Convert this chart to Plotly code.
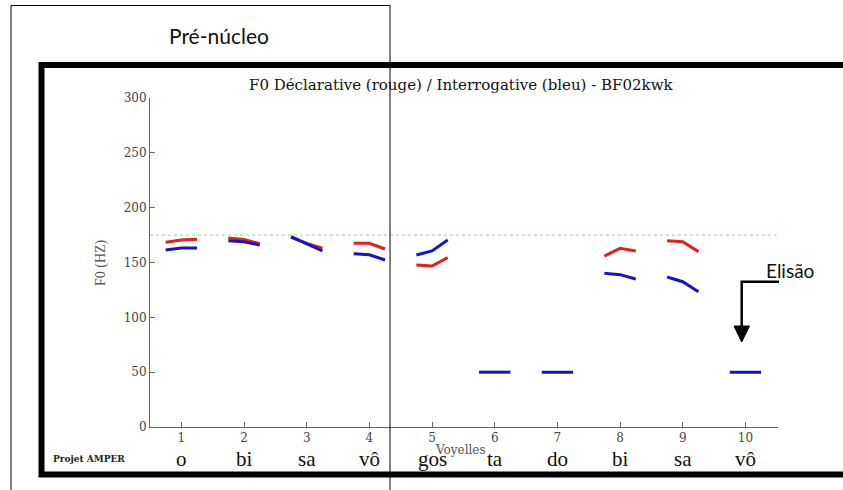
import plotly.graph_objects as go

# ---- data ---------------------------------------------------------------
vowel_pos = [1, 2, 3, 4, 5, 6, 7, 8, 9, 10]
sample_offsets = [-0.25, 0.0, 0.25]          # three F0 samples per vowel

f0_declarative = [            # red (no value on vowels 6, 7 and 10)
    [168.4, 170.5, 171.1],
    [172.3, 171.1, 167.1],
    [173.0, 167.5, 163.0],
    [167.5, 167.5, 162.3],
    [147.7, 146.8, 154.4],
    None,
    None,
    [155.9, 162.9, 160.5],
    [169.9, 169.0, 159.9],
    None,
]
f0_interrogative = [          # blue
    [161.4, 163.2, 163.2],
    [169.9, 168.9, 166.0],
    [173.5, 167.0, 160.5],
    [158.0, 157.1, 152.3],
    [156.8, 160.5, 170.5],
    [50, 50, 50],
    [50, 50, 50],
    [140.1, 138.9, 135.0],
    [136.8, 132.5, 123.4],
    [50, 50, 50],
]
reference_f0 = 175
syllables = ["o", "bi", "sa", "vô", "gos", "ta", "do", "bi", "sa", "vô"]
y_ticks = [0, 50, 100, 150, 200, 250, 300]

# ---- layout geometry (pixels) -------------------------------------------
W, H = 843, 490
L, R, T, B = 150, 65, 98, 63
PW, PH = W - L - R, H - T - B


def px(x):
    return (x - L) / PW


def py(y):
    return (H - B - y) / PH


SERIF = "DejaVu Serif"
TIMES = "Liberation Serif"
SANS = "Lato"
RED = "#e0201c"
BLUE = "#1414c8"

fig = go.Figure()


def add_contours(values, color):
    xs, ys = [], []
    for pos, vals in zip(vowel_pos, values):
        if vals is None:
            continue
        xs += [pos + o for o in sample_offsets] + [None]
        ys += list(vals) + [None]
    fig.add_trace(go.Scatter(x=xs, y=ys, mode="lines",
                             line=dict(color=color, width=3),
                             connectgaps=False, hoverinfo="skip"))


# reference level
fig.add_trace(go.Scatter(x=[0.5, 10.5], y=[reference_f0, reference_f0],
                         mode="lines",
                         line=dict(color="#8fd4a8", width=1, dash="dot"),
                         hoverinfo="skip"))
add_contours(f0_declarative, RED)
add_contours(f0_interrogative, BLUE)

annotations = [
    dict(text="F0 Déclarative (rouge) / Interrogative (bleu) - BF02kwk",
         x=px(461), y=py(85), font=dict(family=SERIF, size=15, color="#111")),
    dict(text="F0 (HZ)", x=px(101), y=py(263), textangle=-90,
         font=dict(family=TIMES, size=14, color="#555")),
    dict(text="Voyelles", x=px(460), y=py(450),
         font=dict(family=SERIF, size=12, color="#555")),
    dict(text="<b>Projet AMPER</b>", x=px(89), y=py(459),
         font=dict(family=SERIF, size=9, color="#222")),
    dict(text="Pré-núcleo", x=px(219), y=py(35),
         font=dict(family=SANS, size=21, color="#111")),
    dict(text="Elisão", x=px(790), y=py(270),
         font=dict(family=SANS, size=19, color="#111")),
]
for a in annotations:
    a.update(xref="paper", yref="paper", showarrow=False,
             xanchor="center", yanchor="middle")

for pos, syl in zip(vowel_pos, syllables):
    annotations.append(dict(text=syl, x=pos, xref="x", y=py(459), yref="paper",
                            showarrow=False, xanchor="center", yanchor="middle",
                            font=dict(family=TIMES, size=21, color="#111")))

shapes = [
    # thick frame around the figure
    dict(type="rect", xref="paper", yref="paper",
         x0=px(41.5), x1=px(870), y0=py(65), y1=py(474.5),
         line=dict(color="black", width=6)),
    # thin frame marking the pre-nucleus
    dict(type="rect", xref="paper", yref="paper",
         x0=px(11), x1=px(390), y0=py(5.5), y1=py(520),
         line=dict(color="black", width=1)),
    # elision arrow
    dict(type="path", xref="paper", yref="paper",
         path=f"M {px(779)} {py(281.7)} L {px(741.7)} {py(281.7)} L {px(741.7)} {py(328)}",
         line=dict(color="black", width=2.5)),
    dict(type="path", xref="paper", yref="paper",
         path=f"M {px(734)} {py(326)} L {px(749.5)} {py(326)} L {px(741.7)} {py(342)} Z",
         fillcolor="black", line=dict(color="black", width=1)),
]

axis_common = dict(showgrid=False, zeroline=False, showline=True,
                   linecolor="#666", linewidth=1, ticks="inside", ticklen=5,
                   tickcolor="#666", mirror=False,
                   tickfont=dict(family=SERIF, size=12, color="#444"))

fig.update_layout(
    width=W, height=H,
    margin=dict(l=L, r=R, t=T, b=B, pad=0),
    paper_bgcolor="white", plot_bgcolor="white",
    showlegend=False,
    xaxis=dict(range=[0.5, 10.52], tickmode="array", tickvals=vowel_pos,
               ticktext=[str(v) for v in vowel_pos], **axis_common),
    yaxis=dict(range=[0, 300], tickmode="array", tickvals=y_ticks,
               ticktext=[str(v) for v in y_ticks], **axis_common),
    annotations=annotations,
    shapes=shapes,
)

fig.write_html("out.html")
